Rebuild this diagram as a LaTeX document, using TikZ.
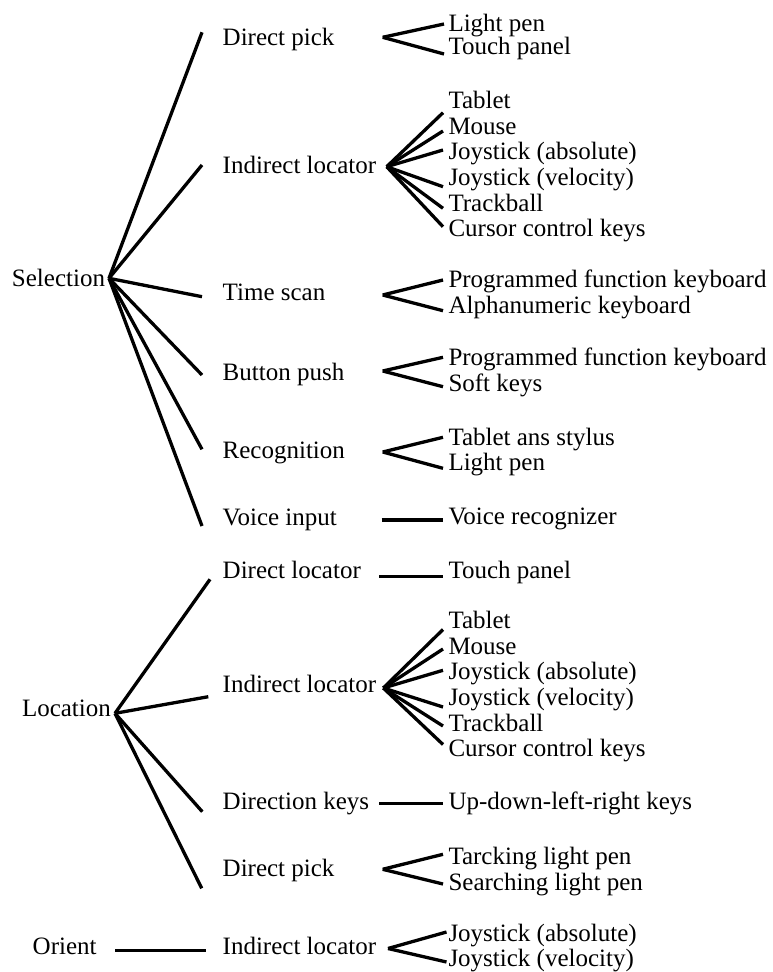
\documentclass[tikz,border=0pt]{standalone}
\usepackage{fontspec}
\setmainfont{Liberation Serif}
\begin{document}
\begin{tikzpicture}[x=1pt,y=-1pt,
  lbl/.style={anchor=base west,inner sep=0pt,outer sep=0pt,font=\fontsize{25}{30}\selectfont},
  conn/.style={line width=3.3pt,black}]
\useasboundingbox[fill=white] (0,0) rectangle (773,972);

% ---------- level 1 ----------
\node[lbl] (sel) at (12,286) {Selection};
\node[lbl] (loc) at (22,716.7) {Location};
\node[lbl] (ori) at (32.7,954) {Orient};
\coordinate (selA) at (109,278.3);
\coordinate (locA) at (115,713.3);
\coordinate (oriA) at (115,950.7);

% ---------- level 2 ----------
\node[lbl] (s1) at (222.7,45) {Direct pick};
\node[lbl] (s2) at (222.7,173.3) {Indirect locator};
\node[lbl] (s3) at (222.7,300.7) {Time scan};
\node[lbl] (s4) at (222.7,380.7) {Button push};
\node[lbl] (s5) at (222.7,458) {Recognition};
\node[lbl] (s6) at (222.7,525) {Voice input};
\node[lbl] (l1) at (222.7,578.3) {Direct locator};
\node[lbl] (l2) at (222.7,692.7) {Indirect locator};
\node[lbl] (l3) at (222.7,809.3) {Direction keys};
\node[lbl] (l4) at (222.7,876) {Direct pick};
\node[lbl] (o1) at (222.7,954) {Indirect locator};

\coordinate (s1L) at (202,32.3);   \coordinate (s1R) at (382.7,37.3);
\coordinate (s2L) at (202,165);    \coordinate (s2R) at (386.7,166.7);
\coordinate (s3L) at (202,296.7);  \coordinate (s3R) at (382.7,295);
\coordinate (s4L) at (202,375);    \coordinate (s4R) at (382.7,371);
\coordinate (s5L) at (202,449.3);  \coordinate (s5R) at (382.7,452);
\coordinate (s6L) at (202,526);    \coordinate (s6R) at (381.7,520);
\coordinate (l1L) at (210,579.3);  \coordinate (l1R) at (379.3,576.5);
\coordinate (l2L) at (208.3,696.7);\coordinate (l2R) at (383.3,688);
\coordinate (l3L) at (202.3,811.7);\coordinate (l3R) at (379.3,803.3);
\coordinate (l4L) at (201.7,888.3);\coordinate (l4R) at (382.7,869.3);
\coordinate (o1L) at (206,950.7);  \coordinate (o1R) at (388,948.5);

\draw[conn] (selA) -- (s1L);
\draw[conn] (selA) -- (s2L);
\draw[conn] (selA) -- (s3L);
\draw[conn] (selA) -- (s4L);
\draw[conn] (selA) -- (s5L);
\draw[conn] (selA) -- (s6L);
\draw[conn] (locA) -- (l1L);
\draw[conn] (locA) -- (l2L);
\draw[conn] (locA) -- (l3L);
\draw[conn] (locA) -- (l4L);
\draw[conn] (oriA) -- (o1L);

% ---------- level 3 ----------
% Selection / Direct pick
\node[lbl] (a1) at (448.5,31) {Light pen};
\node[lbl] (a2) at (448.5,54.3) {Touch panel};
\coordinate (a1e) at (444,24); \coordinate (a2e) at (444,54);
\draw[conn] (s1R) -- (a1e); \draw[conn] (s1R) -- (a2e);

% Selection / Indirect locator
\node[lbl] (b1) at (448.5,108.3) {Tablet};
\node[lbl] (b2) at (448.5,134) {Mouse};
\node[lbl] (b3) at (448.5,159.7) {Joystick (absolute)};
\node[lbl] (b4) at (448.5,185.4) {Joystick (velocity)};
\node[lbl] (b5) at (448.5,211) {Trackball};
\node[lbl] (b6) at (448.5,236.7) {Cursor control keys};
\coordinate (b1e) at (443,112.7); \coordinate (b2e) at (443,131);
\coordinate (b3e) at (443,150);   \coordinate (b4e) at (443,186.7);
\coordinate (b5e) at (443,208.3); \coordinate (b6e) at (443,226.7);
\foreach \i in {1,...,6} {\draw[conn] (s2R) -- (b\i e);}

% Selection / Time scan
\node[lbl] (c1) at (448.5,287.3) {Programmed function keyboard};
\node[lbl] (c2) at (448.5,313.3) {Alphanumeric keyboard};
\coordinate (c1e) at (443,280); \coordinate (c2e) at (443,310.7);
\draw[conn] (s3R) -- (c1e); \draw[conn] (s3R) -- (c2e);

% Selection / Button push
\node[lbl] (d1) at (448.5,365) {Programmed function keyboard};
\node[lbl] (d2) at (448.5,391.2) {Soft keys};
\coordinate (d1e) at (443,357.3); \coordinate (d2e) at (443,386.7);
\draw[conn] (s4R) -- (d1e); \draw[conn] (s4R) -- (d2e);

% Selection / Recognition
\node[lbl] (e1) at (448.5,445) {Tablet ans stylus};
\node[lbl] (e2) at (448.5,470) {Light pen};
\coordinate (e1e) at (443,437.3); \coordinate (e2e) at (443,468.3);
\draw[conn] (s5R) -- (e1e); \draw[conn] (s5R) -- (e2e);

% Selection / Voice input
\node[lbl] (f1) at (448.5,524) {Voice recognizer};
\coordinate (f1e) at (443,520);
\draw[conn] (s6R) -- (f1e);

% Location / Direct locator
\node[lbl] (g1) at (448.5,578.3) {Touch panel};
\coordinate (g1e) at (443.3,576.5);
\draw[conn] (l1R) -- (g1e);

% Location / Indirect locator
\node[lbl] (h1) at (448.5,628.3) {Tablet};
\node[lbl] (h2) at (448.5,654) {Mouse};
\node[lbl] (h3) at (448.5,679.7) {Joystick (absolute)};
\node[lbl] (h4) at (448.5,705.4) {Joystick (velocity)};
\node[lbl] (h5) at (448.5,731) {Trackball};
\node[lbl] (h6) at (448.5,756.7) {Cursor control keys};
\coordinate (h1e) at (443,629.5); \coordinate (h2e) at (443,649);
\coordinate (h3e) at (443,670.3); \coordinate (h4e) at (443,707);
\coordinate (h5e) at (443,726);   \coordinate (h6e) at (443,744.5);
\foreach \i in {1,...,6} {\draw[conn] (l2R) -- (h\i e);}

% Location / Direction keys
\node[lbl] (k1) at (448.5,809.3) {Up-down-left-right keys};
\coordinate (k1e) at (443.3,803.3);
\draw[conn] (l3R) -- (k1e);

% Location / Direct pick
\node[lbl] (m1) at (448.5,864) {Tarcking light pen};
\node[lbl] (m2) at (448.5,890) {Searching light pen};
\coordinate (m1e) at (443,854.3); \coordinate (m2e) at (443,884);
\draw[conn] (l4R) -- (m1e); \draw[conn] (l4R) -- (m2e);

% Orient / Indirect locator
\node[lbl] (n1) at (448.5,941.7) {Joystick (absolute)};
\node[lbl] (n2) at (448.5,966.7) {Joystick (velocity)};
\coordinate (n1e) at (446.5,932); \coordinate (n2e) at (446.5,962);
\draw[conn] (o1R) -- (n1e); \draw[conn] (o1R) -- (n2e);
\end{tikzpicture}
\end{document}
